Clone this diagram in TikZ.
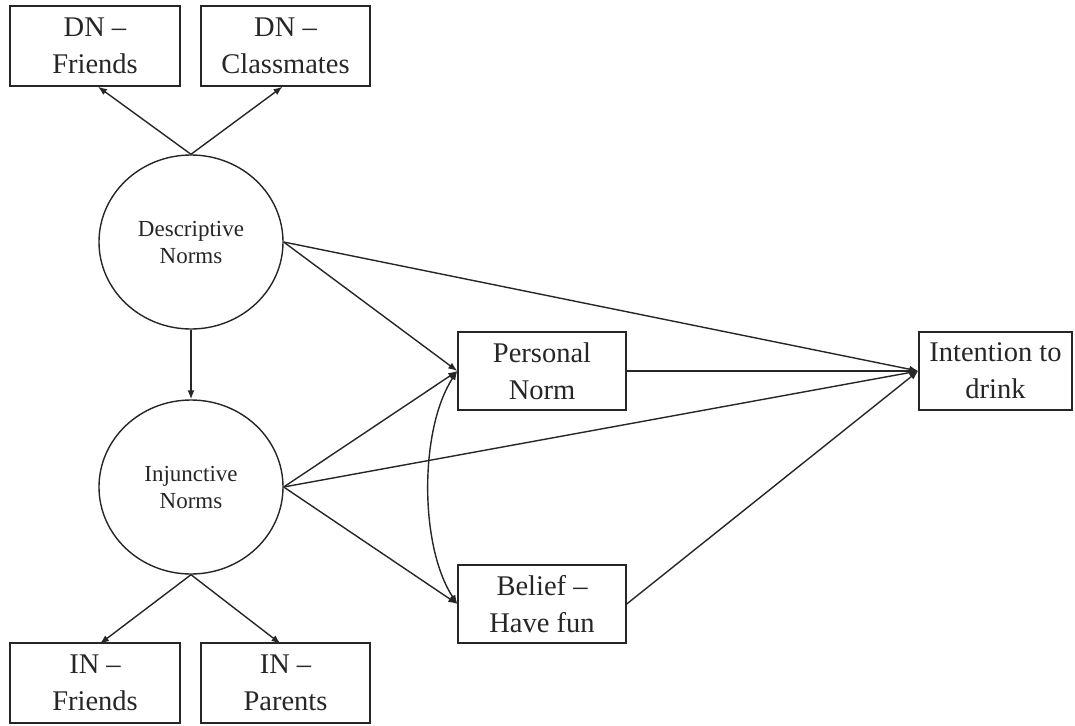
\documentclass[tikz,border=0pt]{standalone}
\usepackage{fontspec}
\setmainfont{Liberation Serif}
\usetikzlibrary{shapes.geometric,arrows.meta,calc}
\definecolor{ink}{HTML}{262626}
\begin{document}
\begin{tikzpicture}[x=1pt,y=-1pt,
  box/.style={draw=ink,line width=1.4pt,rectangle,inner sep=0pt,align=center,
    font=\fontsize{28.5}{37}\selectfont,text=ink},
  latent/.style={draw=ink,line width=1.4pt,ellipse,minimum width=184pt,minimum height=174pt,
    inner sep=0pt,align=center,font=\fontsize{23}{27}\selectfont,text=ink},
  conn/.style={draw=ink,line width=1.4pt,-{Latex[length=9pt,width=7pt]}},
  dconn/.style={draw=ink,line width=1.4pt,{Latex[length=9pt,width=7pt]}-{Latex[length=9pt,width=7pt]}}]
\useasboundingbox (0,0) rectangle (1075,725);
% boxes
\node[box,minimum width=170pt,minimum height=80pt] (dnf) at (95,46) {DN –\\Friends};
\node[box,minimum width=169pt,minimum height=80pt] (dnc) at (285.5,46) {DN –\\Classmates};
\node[box,minimum width=170pt,minimum height=80pt] (inf) at (95,683) {IN –\\Friends};
\node[box,minimum width=169pt,minimum height=80pt] (inp) at (285.5,683) {IN –\\Parents};
\node[box,minimum width=168pt,minimum height=78pt] (pn) at (542,371) {Personal\\Norm};
\node[box,minimum width=168pt,minimum height=78pt] (bh) at (542,604) {Belief –\\Have fun};
\node[box,minimum width=153pt,minimum height=78pt] (it) at (995.5,371) {Intention to\\drink};
% latent variables
\node[latent] (dn) at (191,242) {Descriptive\\Norms};
\node[latent] (in) at (191,487) {Injunctive\\Norms};
% connectors
\draw[conn] (dn.north) -- ($(dnf.south)+(3,0)$);
\draw[conn] (dn.north) -- ($(dnc.south)+(-3,0)$);
\draw[conn] (in.south) -- ($(inf.south)+(5,-80)$);
\draw[conn] (in.south) -- ($(inp.south)+(-5,-80)$);
\draw[conn] (dn.south) -- (in.north);
\draw[conn] (dn.east) -- (pn.west);
\draw[conn] (dn.east) -- (it.west);
\draw[conn] (in.east) -- (pn.west);
\draw[conn] (in.east) -- (it.west);
\draw[conn] (in.east) -- (bh.west);
\draw[conn] (pn.east) -- (it.west);
\draw[conn] (bh.east) -- (it.west);
\draw[dconn] (pn.west) .. controls +(-38,58) and +(-38,-58) .. (bh.west);
\end{tikzpicture}
\end{document}
